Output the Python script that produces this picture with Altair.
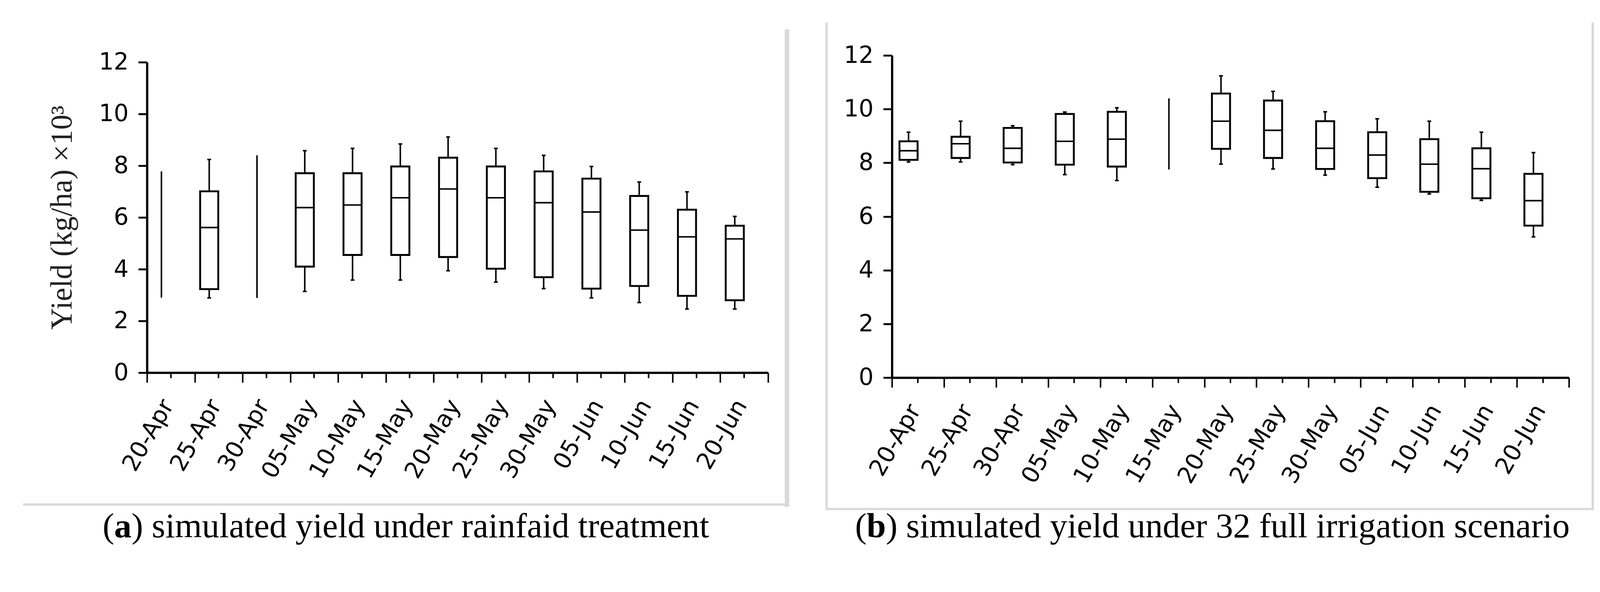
import altair as alt
import pandas as pd

dates = ["20-Apr", "25-Apr", "30-Apr", "05-May", "10-May", "15-May", "20-May",
         "25-May", "30-May", "05-Jun", "10-Jun", "15-Jun", "20-Jun"]

# (a) rainfed
a_min = [2.90, 2.89, 2.89, 3.14, 3.58, 3.58, 3.94, 3.50, 3.25, 2.89, 2.71, 2.46, 2.46]
a_q1 = [None, 3.23, None, 4.10, 4.55, 4.55, 4.47, 4.02, 3.69, 3.25, 3.35, 2.97, 2.80]
a_med = [None, 5.61, None, 6.38, 6.48, 6.76, 7.10, 6.76, 6.57, 6.21, 5.51, 5.25, 5.17]
a_q3 = [None, 7.01, None, 7.71, 7.71, 7.97, 8.31, 7.97, 7.78, 7.50, 6.83, 6.30, 5.68]
a_max = [7.78, 8.24, 8.40, 8.58, 8.67, 8.84, 9.11, 8.67, 8.40, 7.97, 7.37, 6.99, 6.04]

# (b) full irrigation
b_min = [8.03, 8.03, 7.93, 7.56, 7.34, 7.75, 7.95, 7.77, 7.54, 7.09, 6.84, 6.60, 5.24]
b_q1 = [8.11, 8.18, 8.01, 7.93, 7.86, None, 8.52, 8.18, 7.77, 7.43, 6.92, 6.68, 5.66]
b_med = [8.45, 8.71, 8.54, 8.80, 8.88, None, 9.55, 9.21, 8.54, 8.29, 7.95, 7.78, 6.59]
b_q3 = [8.80, 8.97, 9.30, 9.82, 9.90, None, 10.58, 10.32, 9.55, 9.14, 8.88, 8.54, 7.59]
b_max = [9.14, 9.55, 9.38, 9.89, 10.05, 10.40, 11.24, 10.66, 9.90, 9.64, 9.55, 9.14, 8.38]

y_ticks = [0, 2, 4, 6, 8, 10, 12]
y_title = "Yield (kg/ha) \u00d710\u00b3"
cap_a = ("(", "a", ") simulated yield under rainfaid treatment")
cap_b = ("(", "b", ") simulated yield under 32 full irrigation scenario")

SANS = "DejaVu Sans"
SERIF = "Liberation Serif"
FRAME = "#d9d9d9"
OFF = -25
CAP_SIZE = 92


def times_width(s, bold=False):
    w = {"(": 333, ")": 333, " ": 250, "a": 444, "b": 500, "c": 444, "d": 500,
         "e": 444, "f": 333, "g": 500, "i": 278, "l": 278, "m": 778, "n": 500,
         "o": 500, "r": 333, "s": 389, "t": 278, "u": 500, "y": 500, "3": 500,
         "2": 500}
    wb = {"a": 500, "b": 556}
    return sum((wb.get(c, 500) if bold else w.get(c, 500)) for c in s) / 1000.0


def panel(lo, q1, med, q3, hi, width, height, ytop, ytitle, frame, caption):
    df = pd.DataFrame({"date": dates, "lo": lo, "q1": q1, "med": med, "q3": q3, "hi": hi})
    base = alt.Chart(df)
    xscale = alt.Scale(paddingInner=0, paddingOuter=0)
    yscale = alt.Scale(domain=[0, 12], nice=False, range=[height, ytop])
    yaxis = alt.Axis(values=y_ticks, tickSize=23, tickWidth=5, tickColor="black",
                     domainColor="black", domainWidth=6, labelFont=SANS,
                     labelFontSize=62, labelColor="black", labelPadding=26,
                     grid=False, title=ytitle, titleFont=SERIF, titleFontSize=80,
                     titleFontWeight="normal", titleColor="#222", titlePadding=56)
    main_x = alt.Axis(tickBand="extent", tickSize=26, tickWidth=4, tickColor="black",
                      domainColor="black", domainWidth=6, labelAngle=-60,
                      labelAlign="right", labelBaseline="middle", labelFont=SANS,
                      labelFontSize=62, labelColor="black", labelPadding=50,
                      labelOffset=-8, labelLimit=0, title=None, orient="bottom")
    minor_x = alt.Axis(labels=False, domain=False, tickSize=14, tickWidth=4,
                       tickColor="black", title=None, orient="bottom", grid=False)

    def X(axis):
        return alt.X("date:N", sort=dates, scale=xscale, axis=axis, title=None)

    whisk = base.mark_rule(color="black", strokeWidth=4, xOffset=OFF).encode(
        x=X(minor_x), y=alt.Y("lo:Q", scale=yscale, axis=yaxis), y2="hi:Q")
    box = base.mark_bar(size=48, fill="white", stroke="black", strokeWidth=5,
                        xOffset=OFF).encode(
        x=X(main_x), y=alt.Y("q1:Q", scale=yscale, axis=yaxis), y2="q3:Q")
    median = base.mark_tick(size=44, thickness=4, color="black", xOffset=OFF,
                            opacity=1).encode(
        x=X(None), y=alt.Y("med:Q", scale=yscale, axis=yaxis))
    caps_lo = base.transform_filter("isValid(datum.q1)").mark_tick(
        size=10, thickness=4, color="black", xOffset=OFF, opacity=1).encode(
        x=X(None), y=alt.Y("lo:Q", scale=yscale, axis=yaxis))
    caps_hi = base.transform_filter("isValid(datum.q1)").mark_tick(
        size=10, thickness=4, color="black", xOffset=OFF, opacity=1).encode(
        x=X(None), y=alt.Y("hi:Q", scale=yscale, axis=yaxis))

    one = alt.Chart(pd.DataFrame({"k": [0]}))
    layers = [whisk, box, median, caps_lo, caps_hi]
    for (x1, x2, y1, y2, sw) in frame:
        enc = {"x": alt.value(x1), "y": alt.value(y1)}
        if x2 is not None:
            enc["x2"] = alt.value(x2)
        if y2 is not None:
            enc["y2"] = alt.value(y2)
        layers.append(one.mark_rule(color=FRAME, strokeWidth=sw, strokeCap="butt").encode(**enc))

    cx, cy = caption[3], caption[4]
    w1 = times_width(caption[0]) * CAP_SIZE
    w2 = times_width(caption[1], bold=True) * CAP_SIZE
    w3 = times_width(caption[2]) * CAP_SIZE
    x0 = cx - (w1 + w2 + w3) / 2
    for txt, xx, bold in [(caption[0], x0, False), (caption[1], x0 + w1, True),
                          (caption[2], x0 + w1 + w2, False)]:
        layers.append(one.mark_text(text=txt, align="left", baseline="alphabetic",
                                    font=SERIF, fontSize=CAP_SIZE,
                                    fontWeight="bold" if bold else "normal",
                                    color="black").encode(x=alt.value(xx), y=alt.value(cy)))

    return alt.layer(*layers).resolve_axis(x="independent").properties(
        width=width, height=height)


# panel a: plot area 392..2037 x 167..989 ; panel b: 2365..4158 x 149..1002
WA, HA, TOPA = 1645, 840, 18
WB, HB, TOPB = 1793, 853, 0

frame_a = [
    (1695, None, -69, 1195, 12),
    (-328, 1701, 1189, None, 6),
]
frame_b = [
    (-173, None, -87, 1204, 6),
    (1856, None, -87, 1204, 6),
    (-176, 1859, 1201, None, 6),
]

pa = panel(a_min, a_q1, a_med, a_q3, a_max, WA, HA, TOPA, y_title, frame_a,
           cap_a + (686, 1276))
pb = panel(b_min, b_q1, b_med, b_q3, b_max, WB, HB, TOPB, None, frame_b,
           cap_b + (849, 1276))

chart = alt.hconcat(pa, pb, spacing=328, bounds="flush").properties(
    padding={"left": 50, "top": 24, "right": 5, "bottom": 5}
).configure(background="white", view=alt.ViewConfig(strokeWidth=0, stroke="transparent"))

chart.save("out.html", embed_options={"renderer": "svg", "actions": False})
